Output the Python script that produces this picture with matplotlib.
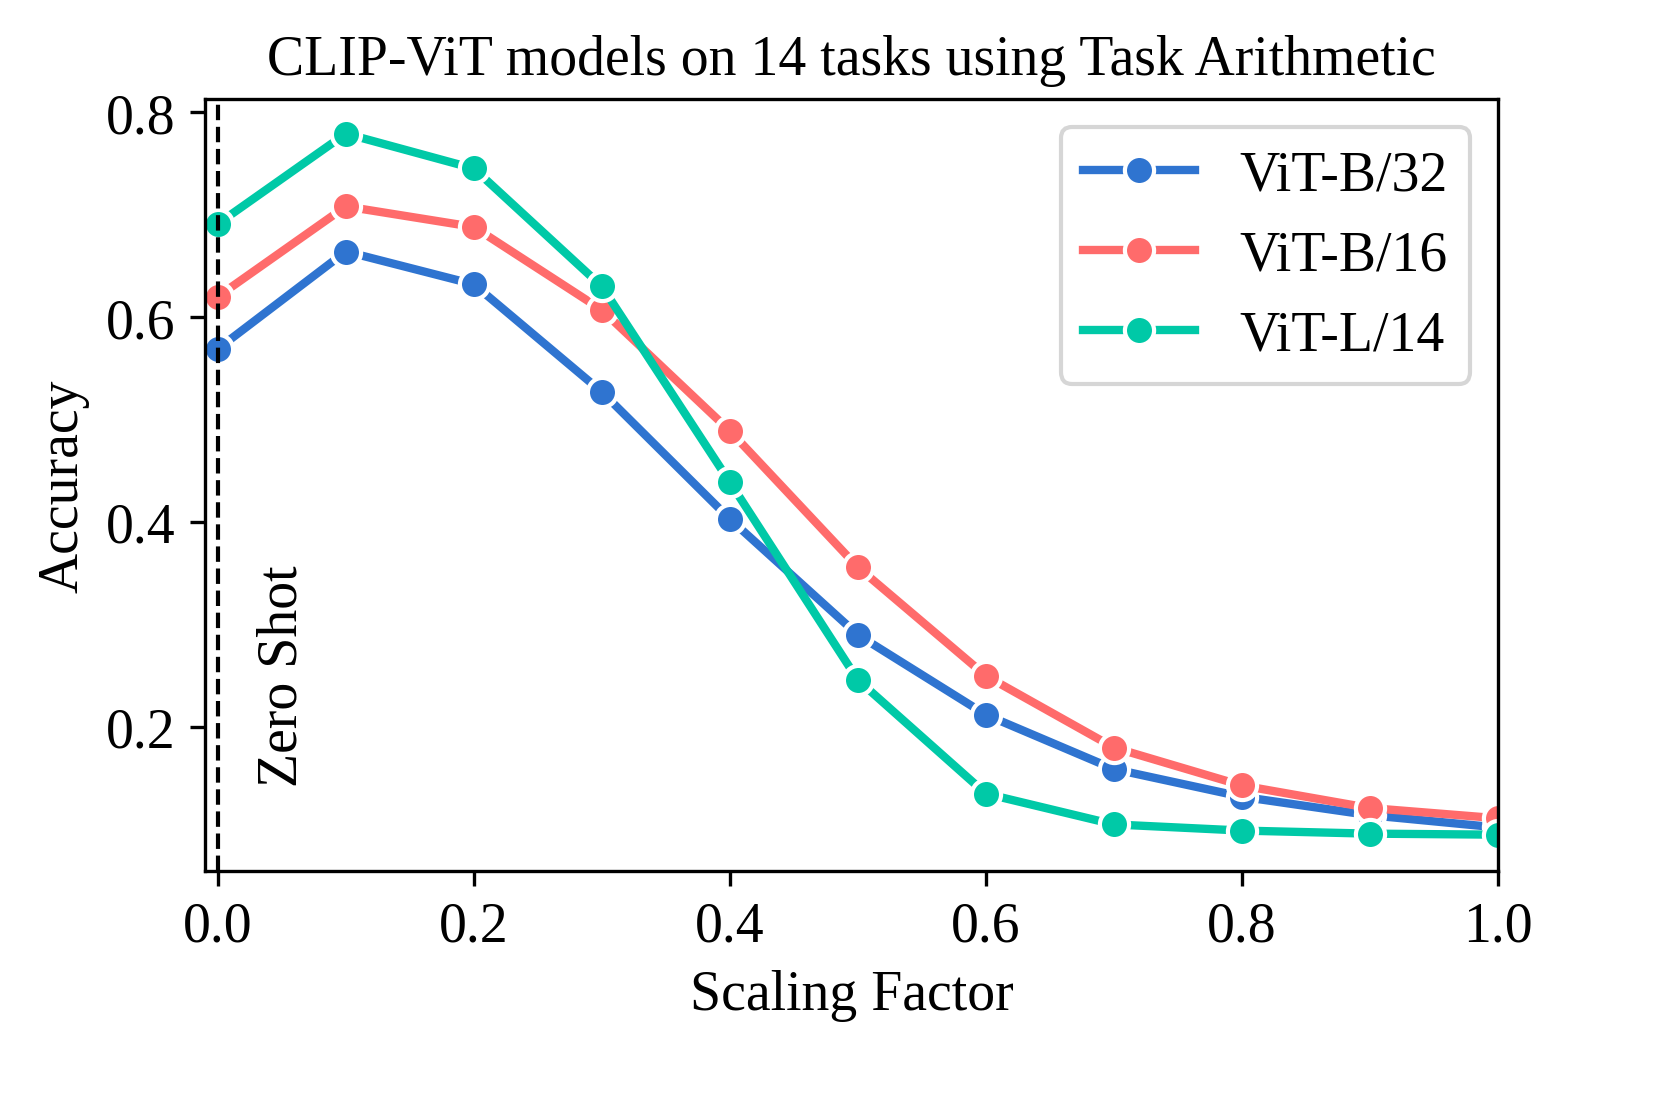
import numpy as np
import pandas as pd
import matplotlib
matplotlib.use('Agg')
import matplotlib.pyplot as plt
import seaborn as sns

# scaling factors and accuracies
scaling = [0.0, 0.1, 0.2, 0.3, 0.4, 0.5, 0.6, 0.7, 0.8, 0.9, 1.0]
vit_b32 = [0.569, 0.664, 0.632, 0.527, 0.403, 0.290, 0.212, 0.159, 0.132, 0.114, 0.102]
vit_b16 = [0.620, 0.708, 0.688, 0.607, 0.489, 0.356, 0.250, 0.180, 0.143, 0.121, 0.111]
vit_l14 = [0.691, 0.779, 0.745, 0.630, 0.439, 0.246, 0.135, 0.105, 0.099, 0.096, 0.095]
model_names = ['ViT-B/32', 'ViT-B/16', 'ViT-L/14']
colors = ['#2F74D0', '#FF6B6B', '#00C9A7']

df = pd.DataFrame({
    'Scaling Factor': scaling * 3,
    'Accuracy': vit_b32 + vit_b16 + vit_l14,
    'model': np.repeat(model_names, len(scaling)),
})

plt.rcParams['font.family'] = 'serif'
plt.rcParams['font.serif'] = ['Liberation Serif', 'DejaVu Serif']
plt.rcParams['font.size'] = 13.4

fig, ax = plt.subplots(figsize=(5.533, 3.733), dpi=300)
sns.lineplot(data=df, x='Scaling Factor', y='Accuracy', hue='model',
             palette=colors, marker='o', markersize=7, linewidth=2,
             markeredgecolor='white', markeredgewidth=1, ax=ax)

ax.axvline(0.0, color='black', linestyle='--', linewidth=1)
ax.text(0.03, 0.142, 'Zero Shot', rotation=90, va='bottom', ha='left')

ax.set_xlim(-0.01, 1.0)
ax.set_ylim(0.0595, 0.8127)
ax.set_xticks([0.0, 0.2, 0.4, 0.6, 0.8, 1.0])
ax.set_yticks([0.2, 0.4, 0.6, 0.8])
ax.set_title('CLIP-ViT models on 14 tasks using Task Arithmetic', fontsize=13.4)
ax.legend(title=None, loc='upper right', fancybox=True)

fig.subplots_adjust(left=0.1235, right=0.9024, top=0.9107, bottom=0.2214)
plt.savefig('out.png', dpi=300)
